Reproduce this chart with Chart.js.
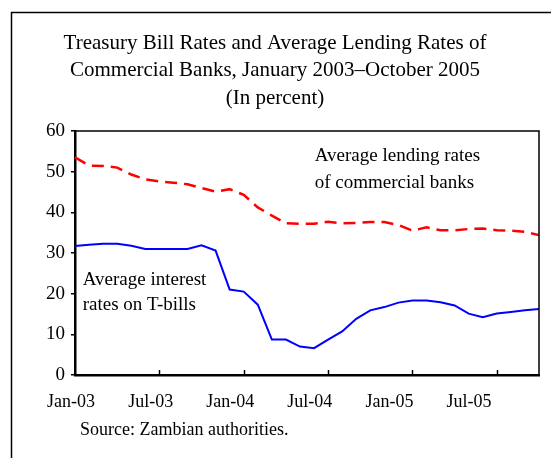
<!DOCTYPE html>
<html>
<head>
<meta charset="utf-8">
<script src="https://cdn.jsdelivr.net/npm/chart.js@4.4.1/dist/chart.umd.min.js"></script>
<style>
  html, body { margin: 0; padding: 0; background: #fff; }
</style>
</head>
<body>
<canvas id="rates" width="551" height="458"></canvas>
<script>
// Monthly observations, January 2003 to October 2005
const months = [
  'Jan-03', 'Feb-03', 'Mar-03', 'Apr-03', 'May-03', 'Jun-03', 'Jul-03', 'Aug-03', 'Sep-03', 'Oct-03', 'Nov-03', 'Dec-03',
  'Jan-04', 'Feb-04', 'Mar-04', 'Apr-04', 'May-04', 'Jun-04', 'Jul-04', 'Aug-04', 'Sep-04', 'Oct-04', 'Nov-04', 'Dec-04',
  'Jan-05', 'Feb-05', 'Mar-05', 'Apr-05', 'May-05', 'Jun-05', 'Jul-05', 'Aug-05', 'Sep-05', 'Oct-05'
];
const lendingRates = [
  53.5, 51.5, 51.4, 51.0, 49.3, 48.1, 47.6, 47.3, 46.9, 46.0, 45.1, 45.7,
  44.3, 41.2, 39.2, 37.3, 37.2, 37.2, 37.7, 37.3, 37.4, 37.6, 37.6, 36.9,
  35.5, 36.3, 35.6, 35.6, 35.9, 36.0, 35.6, 35.5, 35.2, 34.4
];
const tbillRates = [
  31.7, 32.0, 32.3, 32.3, 31.8, 31.0, 31.0, 31.0, 31.0, 31.9, 30.6, 21.0,
  20.5, 17.3, 8.7, 8.7, 7.0, 6.6, 8.7, 10.7, 13.8, 15.9, 16.7, 17.8,
  18.3, 18.3, 17.9, 17.1, 15.1, 14.2, 15.1, 15.5, 15.9, 16.2
];
const tickLabels = ['Jan-03', 'Jul-03', 'Jan-04', 'Jul-04', 'Jan-05', 'Jul-05'];
const titleLines = [
  'Treasury Bill Rates and Average Lending Rates of',
  'Commercial Banks, January 2003\u2013October 2005',
  '(In percent)'
];
const lendingNote = ['Average lending rates', 'of commercial banks'];
const tbillNote = ['Average interest', 'rates on T-bills'];
const sourceNote = 'Source: Zambian authorities.';

const SERIF = '"Liberation Serif", "Times New Roman", serif';

// frame, titles, notes and inward x tick marks
const decorations = {
  id: 'decorations',
  beforeDraw(chart) {
    const c = chart.ctx;
    c.save();
    c.fillStyle = '#fff';
    c.fillRect(0, 0, chart.width, chart.height);
    c.strokeStyle = '#000';
    c.lineWidth = 1.5;
    c.strokeRect(11.5, 12.5, 700, 700);
    c.restore();
  },
  afterDraw(chart) {
    const c = chart.ctx;
    const a = chart.chartArea;
    const x = chart.scales.x;
    const y = chart.scales.y;
    c.save();
    // top and right plot border
    c.strokeStyle = '#000';
    c.lineWidth = 1.5;
    c.beginPath();
    c.moveTo(a.left, a.top);
    c.lineTo(a.right, a.top);
    c.lineTo(a.right, a.bottom);
    c.stroke();
    // half-yearly tick marks pointing into the plot
    for (let i = 6; i < months.length; i += 6) {
      const px = Math.round(x.getPixelForValue(i)) + 0.5;
      c.beginPath();
      c.moveTo(px, a.bottom);
      c.lineTo(px, a.bottom - 5);
      c.stroke();
    }
    c.fillStyle = '#000';
    c.textAlign = 'center';
    c.textBaseline = 'middle';
    c.font = '21px ' + SERIF;
    const titleY = [43, 70, 98];
    titleLines.forEach((t, i) => c.fillText(t, 275, titleY[i]));

    c.textAlign = 'left';
    c.font = '19px ' + SERIF;
    const ly = y.getPixelForValue(53.8);
    lendingNote.forEach((t, i) => c.fillText(t, x.getPixelForValue(17.05), ly + i * 27));
    const ty = y.getPixelForValue(23.3);
    tbillNote.forEach((t, i) => c.fillText(t, x.getPixelForValue(0.55), ty + i * 25));

    c.font = '18px ' + SERIF;
    c.fillText(sourceNote, 80, 430);
    c.restore();
  }
};

new Chart(document.getElementById('rates'), {
  type: 'line',
  data: {
    labels: months,
    datasets: [
      {
        label: 'Average lending rates of commercial banks',
        data: lendingRates,
        borderColor: '#ff0000',
        borderWidth: 2.5,
        borderDash: [12, 7],
        pointRadius: 0,
        tension: 0
      },
      {
        label: 'Average interest rates on T-bills',
        data: tbillRates,
        borderColor: '#0000ff',
        borderWidth: 2,
        pointRadius: 0,
        tension: 0
      }
    ]
  },
  options: {
    responsive: false,
    animation: false,
    layout: { padding: { left: 0, right: 12, top: 131, bottom: 43 } },
    plugins: {
      legend: { display: false },
      tooltip: { enabled: false }
    },
    scales: {
      x: {
        type: 'category',
        offset: false,
        grid: { display: false },
        border: { color: '#000', width: 2.5 },
        ticks: { display: false },
        afterFit(s) { s.height = 0; }
      },
      // label row for the half-yearly ticks, one label every 6 months
      xLabels: {
        type: 'linear',
        position: 'bottom',
        min: 0.3,
        max: 35.27,
        grid: { display: false, drawTicks: false },
        border: { display: false },
        afterBuildTicks(s) {
          s.ticks = tickLabels.map((t, i) => ({ value: i * 6 }));
        },
        ticks: {
          autoSkip: false,
          maxRotation: 0,
          padding: 16,
          color: '#000',
          font: { family: SERIF, size: 18 },
          callback: (v, i) => tickLabels[i]
        },
        afterFit(s) { s.height = 40; }
      },
      y: {
        min: 0,
        max: 60,
        ticks: {
          stepSize: 10,
          padding: 6,
          color: '#000',
          font: { family: SERIF, size: 19 }
        },
        grid: { drawOnChartArea: false, tickLength: 4, color: '#000', lineWidth: 1.5 },
        border: { color: '#000', width: 2.5 },
        afterFit(s) { s.width = 75; }
      }
    }
  },
  plugins: [decorations]
});
</script>
</body>
</html>
